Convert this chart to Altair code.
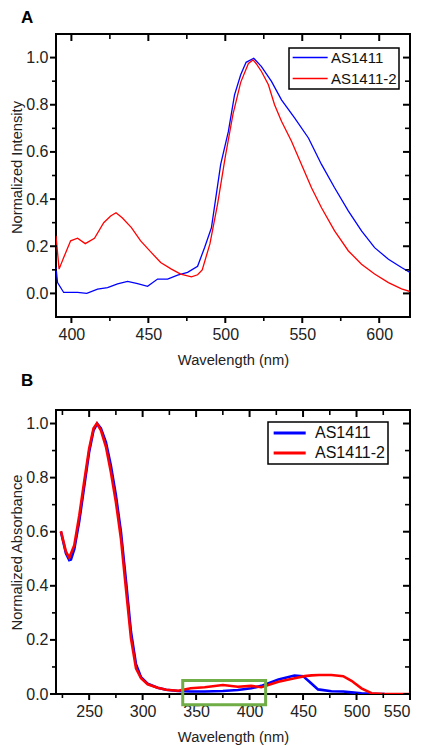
import altair as alt
import pandas as pd

FONT = "Liberation Sans"
SERIES = ["AS1411", "AS1411-2"]
COLORS = ["#0000ff", "#ff0000"]

# ---------------- Panel A: fluorescence emission ----------------
a_blue_wl = [390, 391, 395, 404, 410, 417, 423.5, 430, 436.5, 443, 449.5, 456, 462.5, 469, 475.5,
             482, 486.5, 491, 497, 502, 506, 510, 513.5, 518.5, 523.5, 530, 536.5, 545, 554,
             562.5, 571, 580, 588.5, 597, 606, 614.5, 620]
a_blue_val = [0.11, 0.046, 0.004, 0.004, 0.0, 0.018, 0.025, 0.04, 0.051, 0.042, 0.03, 0.061, 0.061,
              0.078, 0.089, 0.115, 0.194, 0.279, 0.547, 0.687, 0.842, 0.927, 0.98, 0.997, 0.962,
              0.899, 0.821, 0.744, 0.659, 0.547, 0.448, 0.349, 0.265, 0.194, 0.145, 0.11, 0.089]

a_red_wl = [390, 392, 395, 399.5, 404, 409, 415, 421, 425.5, 429, 433, 439, 445, 452, 458, 465, 471,
            478, 482, 485, 490, 495, 500, 505, 510, 515, 518, 520, 523.5, 528, 532, 536.5, 543,
            549.5, 556, 562.5, 571, 580, 588.5, 597, 606, 614.5, 620]
a_red_val = [0.244, 0.103, 0.152, 0.223, 0.234, 0.211, 0.234, 0.30, 0.328, 0.342, 0.321, 0.279,
             0.223, 0.173, 0.131, 0.103, 0.082, 0.07, 0.079, 0.10, 0.21, 0.38, 0.58, 0.76, 0.895,
             0.975, 0.99, 0.975, 0.941, 0.885, 0.80, 0.73, 0.645, 0.547, 0.448, 0.363, 0.265,
             0.18, 0.124, 0.082, 0.046, 0.019, 0.008]

a_x_major = [400, 450, 500, 550, 600]
a_x_minor = [425, 475, 525, 575]
a_y_major = [0.0, 0.2, 0.4, 0.6, 0.8, 1.0]
a_y_minor = [0.1, 0.3, 0.5, 0.7, 0.9]

# ---------------- Panel B: absorbance ----------------
b_blue_wl = [223.6, 228.3, 231.4, 233, 236.1, 240.8, 245.3, 250, 254.1, 257.5, 261, 265.7, 270.3,
             275, 279.7, 284.4, 289.1, 293.8, 298.5, 304.7, 314, 322, 333, 345, 358, 375, 389,
             401.5, 411, 427, 442, 450, 456, 464, 476.5, 487.5, 495.3, 504.6, 514, 526.5]
b_blue_val = [0.60, 0.52, 0.495, 0.497, 0.535, 0.64, 0.765, 0.895, 0.975, 1.0, 0.982, 0.93, 0.845,
              0.735, 0.60, 0.42, 0.23, 0.11, 0.062, 0.038, 0.023, 0.016, 0.011, 0.009, 0.009,
              0.011, 0.015, 0.021, 0.03, 0.054, 0.068, 0.066, 0.045, 0.017, 0.01, 0.009, 0.006,
              0.003, 0.001, 0.0]

b_red_wl = [223.6, 228.3, 231.4, 236.1, 240.8, 245.3, 250, 254.1, 257.2, 261, 265.7, 270.3, 275,
            279.7, 284.4, 289.1, 293.8, 298.5, 304.7, 314, 322, 333, 345, 358, 375, 389, 401.5,
            411, 427, 442, 451.5, 458, 465, 476.5, 487.5, 495.3, 504.6, 514, 526.5, 550]
b_red_val = [0.602, 0.526, 0.504, 0.55, 0.661, 0.784, 0.908, 0.982, 1.0, 0.975, 0.914, 0.821, 0.71,
             0.575, 0.39, 0.206, 0.095, 0.058, 0.036, 0.023, 0.016, 0.012, 0.021, 0.025, 0.033,
             0.027, 0.03, 0.025, 0.045, 0.058, 0.066, 0.069, 0.07, 0.07, 0.066, 0.049, 0.021,
             0.003, 0.0, 0.0]

b_x_major = [250, 300, 350, 400, 450, 500, 550]
b_x_minor = [225, 275, 325, 375, 425, 475, 525]
b_y_major = [0.0, 0.2, 0.4, 0.6, 0.8, 1.0]
b_y_minor = [0.1, 0.3, 0.5, 0.7, 0.9]

# highlighted region (green box) in panel B
box_wl = [337.5, 415]
box_val = [0.05, -0.04]

W = 354


def frame(wl_b, v_b, wl_r, v_r):
    return pd.DataFrame({
        "wl": list(wl_b) + list(wl_r),
        "v": list(v_b) + list(v_r),
        "series": [SERIES[0]] * len(wl_b) + [SERIES[1]] * len(wl_r),
    })


def tick_layers(xs, ys, xaxis, yaxis, H, xmaj, xmin, ymaj, ymin):
    out = []
    for vals, length, width in ((xmaj, 7, 2), (xmin, 5, 1.6)):
        d = alt.Chart(pd.DataFrame({"tx": vals}))
        xe = alt.X("tx:Q", scale=xs, axis=xaxis)
        rule = dict(color="#000000", opacity=1, strokeWidth=width, clip=False)
        # outward ticks on the bottom edge, inward ticks on the top edge
        out.append(d.mark_rule(**rule).encode(x=xe, y=alt.value(H - 1), y2=alt.value(H + length - 1)))
        out.append(d.mark_rule(**rule).encode(x=xe, y=alt.value(0), y2=alt.value(length)))
    for vals, length, width in ((ymaj, 7, 2), (ymin, 5, 1.6)):
        d = alt.Chart(pd.DataFrame({"ty": vals}))
        ye = alt.Y("ty:Q", scale=ys, axis=yaxis)
        rule = dict(color="#000000", opacity=1, strokeWidth=width, clip=False)
        # outward ticks on the left edge, inward ticks on the right edge
        out.append(d.mark_rule(**rule).encode(y=ye, x=alt.value(1), x2=alt.value(1 - length)))
        out.append(d.mark_rule(**rule).encode(y=ye, x=alt.value(W), x2=alt.value(W - length)))
    return out


def panel(df, xdom, ydom, xmaj, xmin, ymaj, ymin, xtitle, ytitle, lw, letter,
          letter_offset, leg, H, ytitle_y=None, box=None):
    xs = alt.Scale(domain=xdom, nice=False, zero=False)
    ys = alt.Scale(domain=ydom, nice=False, zero=False)
    lab = dict(labelFont=FONT, labelFontSize=16, labelColor="#222222",
               titleFont=FONT, titleFontSize=14.7, titleColor="#222222", titleFontWeight="normal",
               ticks=False, grid=False, domain=False)
    yaxis_kw = dict(values=ymaj, format=".1f", title=ytitle, orient="left",
                    labelPadding=8, titlePadding=1, **lab)
    if ytitle_y is not None:
        yaxis_kw["titleY"] = ytitle_y
    yaxis = alt.Axis(**yaxis_kw)
    xaxis = alt.Axis(values=xmaj, format="d", title=xtitle, orient="bottom",
                     labelPadding=9, titlePadding=10, **lab)
    lines = alt.Chart(df).mark_line(strokeWidth=lw, clip=True).encode(
        x=alt.X("wl:Q", scale=xs, axis=xaxis),
        y=alt.Y("v:Q", scale=ys, axis=yaxis),
        color=alt.Color("series:N", scale=alt.Scale(domain=SERIES, range=COLORS), legend=leg),
    )
    layers = [lines] + tick_layers(xs, ys, xaxis, yaxis, H, xmaj, xmin, ymaj, ymin)
    if box is not None:
        box_df = pd.DataFrame({"x1": [box[0][0]], "x2": [box[0][1]], "y1": [box[1][0]], "y2": [box[1][1]]})
        layers.append(
            alt.Chart(box_df).mark_rect(fillOpacity=0, stroke="#70ad47", strokeWidth=3, clip=False).encode(
                x=alt.X("x1:Q", scale=xs, axis=xaxis), x2="x2:Q",
                y=alt.Y("y1:Q", scale=ys, axis=yaxis), y2="y2:Q"))
    return alt.layer(*layers).properties(
        width=W,
        height=H,
        title=alt.TitleParams(letter, anchor="start", frame="group", dx=-35, fontSize=17,
                              fontWeight="bold", font=FONT, color="black", offset=letter_offset),
    )


df_a = frame(a_blue_wl, a_blue_val, a_red_wl, a_red_val)
df_b = frame(b_blue_wl, b_blue_val, b_red_wl, b_red_val)

# legend symbol: a horizontal line drawn to the right of its anchor
LINE_PATH = "M-1,0H5"
leg_a = alt.Legend(title=None, orient="none", legendX=233, legendY=14, symbolType=LINE_PATH,
                   symbolSize=136, symbolStrokeWidth=1.4, labelFont=FONT, labelFontSize=15,
                   labelColor="#111111", labelOffset=25, strokeColor="black", fillColor="white",
                   padding=2, rowPadding=5)
leg_b = alt.Legend(title=None, orient="none", legendX=212, legendY=12, symbolType=LINE_PATH,
                   symbolSize=114, symbolStrokeWidth=3, labelFont=FONT, labelFontSize=16,
                   labelColor="#111111", labelOffset=28, strokeColor="black", fillColor="white",
                   padding=3, rowPadding=4)

chart_a = panel(df_a, [390, 620], [-0.1, 1.1], a_x_major, a_x_minor, a_y_major, a_y_minor,
                "Wavelength (nm)", "Normalized Intensity", 1.3, "A", 6, leg_a, 283, ytitle_y=133)
chart_b = panel(df_b, [219, 550], [0, 1.05], b_x_major, b_x_minor, b_y_major, b_y_minor,
                "Wavelength (nm)", "Normalized Absorbance", 2.6, "B", 19, leg_b, 284,
                box=(box_wl, box_val))

chart = alt.vconcat(chart_a, chart_b, spacing=3).resolve_legend(color="independent").resolve_scale(
    color="independent").properties(padding=0).configure_view(stroke="black", strokeWidth=2).configure_legend(
    strokeWidth=1.5)

chart.save("out.html", embed_options={"renderer": "svg", "actions": False})
